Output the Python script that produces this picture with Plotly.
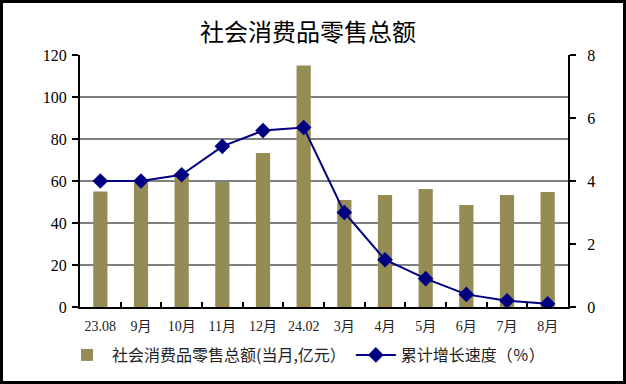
import plotly.graph_objects as go

categories = ["23.08", "9月", "10月", "11月", "12月", "24.02", "3月", "4月", "5月", "6月", "7月", "8月"]
retail_sales = [55, 59, 63.7, 59.5, 73.3, 115, 51, 53.3, 56.2, 48.6, 53.3, 54.8]
growth_rate = [4.0, 4.0, 4.2, 5.1, 5.6, 5.7, 3.0, 1.5, 0.9, 0.4, 0.2, 0.1]

serif = "Liberation Serif, Times New Roman, Noto Sans CJK SC"
cjk = "Noto Sans CJK SC, sans-serif"

fig = go.Figure()
fig.add_trace(go.Bar(
    x=categories, y=retail_sales, name="社会消费品零售总额(当月,亿元）",
    marker=dict(color="#958B55", line=dict(width=0)), yaxis="y",
))
fig.add_trace(go.Scatter(
    x=categories, y=growth_rate, name="累计增长速度（％）", yaxis="y2",
    mode="lines+markers",
    line=dict(color="#000080", width=2),
    marker=dict(symbol="diamond", size=12, color="#000080"),
))

L, R, T, B = 80, 58, 55, 77
W, H = 626, 384
pw, ph = W - L - R, H - T - B

def px_x(p):
    return (p - L) / pw

def px_y(p):
    return (H - B - p) / ph

fig.update_layout(
    width=W, height=H,
    margin=dict(l=L, r=R, t=T, b=B, autoexpand=False),
    paper_bgcolor="white", plot_bgcolor="white",
    bargap=0.65,
    title=dict(text="社会消费品零售总额", x=px_x(308), xref="paper", xanchor="center",
               y=1 - 33 / H, yref="container", yanchor="middle",
               font=dict(family=cjk, size=24, color="black")),
    font=dict(family=serif, size=14, color="black"),
    xaxis=dict(
        type="category", tickson="boundaries", ticks="inside", ticklen=5,
        tickwidth=1.5, tickcolor="black",
        showline=True, linecolor="black", linewidth=2, showgrid=False,
        tickfont=dict(family=serif, size=14, color="#222"),
        range=[-0.5, 11.5], tickangle=0, ticklabelstandoff=5,
    ),
    yaxis=dict(
        range=[0, 120], dtick=20, ticks="outside", ticklen=6, tickwidth=2,
        tickcolor="black", showline=True, linecolor="black", linewidth=2,
        showgrid=True, gridcolor="#808080", gridwidth=2, zeroline=False,
        tickfont=dict(family=serif, size=16, color="black"),
        ticklabelstandoff=2,
    ),
    yaxis2=dict(
        range=[0, 8], dtick=2, overlaying="y", side="right",
        ticks="outside", ticklen=6, tickwidth=2, tickcolor="black",
        showline=True, linecolor="black", linewidth=2, showgrid=False,
        zeroline=False,
        tickfont=dict(family=serif, size=16, color="black"),
        ticklabelstandoff=8,
    ),
    legend=dict(
        orientation="h", x=px_x(306), xanchor="center", xref="paper",
        y=px_y(355), yanchor="middle", yref="paper",
        font=dict(family=cjk, size=16, color="#222"),
        itemwidth=40, tracegroupgap=0,
    ),
    showlegend=True,
    shapes=[dict(
        type="rect", xref="paper", yref="paper",
        x0=px_x(1.5), x1=px_x(624.5), y0=px_y(382.5), y1=px_y(1.5),
        line=dict(color="black", width=3), fillcolor="rgba(0,0,0,0)", layer="above",
    )],
)

fig.write_html("out.html", config={"displayModeBar": False},
               post_script="document.body.style.margin='0';")
